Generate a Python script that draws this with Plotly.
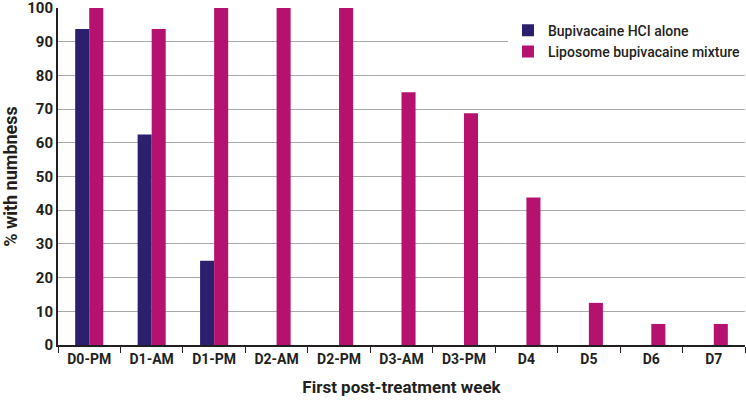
import plotly.graph_objects as go

categories = ["D0-PM", "D1-AM", "D1-PM", "D2-AM", "D2-PM", "D3-AM", "D3-PM", "D4", "D5", "D6", "D7"]
bupivacaine_alone = [93.75, 62.5, 25, 0, 0, 0, 0, 0, 0, 0, 0]
liposome_mixture = [100, 93.75, 100, 100, 100, 75, 68.75, 43.75, 12.5, 6.25, 6.25]
y_ticks = [0, 10, 20, 30, 40, 50, 60, 70, 80, 90, 100]

FONT = "Roboto"
fig = go.Figure()
fig.add_trace(go.Bar(x=categories, y=bupivacaine_alone, name="Bupivacaine HCI alone",
                     marker=dict(color="#2c206e", line=dict(width=0))))
fig.add_trace(go.Bar(x=categories, y=liposome_mixture, name="Liposome bupivacaine mixture",
                     marker=dict(color="#b51270", line=dict(width=0))))

fig.update_layout(
    width=746, height=404,
    margin=dict(l=58, r=1, t=8, b=59, autoexpand=False),
    plot_bgcolor="white", paper_bgcolor="white",
    barmode="group", bargap=0.55, bargroupgap=0,
    font=dict(family=FONT, color="#231f20"),
    legend=dict(x=0.655, y=0.98, xanchor="left", yanchor="top",
                bgcolor="white", font=dict(size=14, family=FONT, color="#231f20", weight=500),
                itemsizing="constant", tracegroupgap=0),
    showlegend=True,
)
fig.update_xaxes(
    type="category", tickson="boundaries", ticks="outside", ticklen=6,
    tickcolor="#231f20", showline=True, linecolor="#231f20", linewidth=2,
    tickfont=dict(size=14, family=FONT, weight="bold"),
    title=dict(text="First post-treatment week", font=dict(size=17, family=FONT, weight="bold"), standoff=15),
    showgrid=False, automargin=False,
)
fig.update_yaxes(
    range=[0, 100], tickvals=y_ticks, showline=True, linecolor="#231f20", linewidth=2,
    showgrid=True, gridcolor="#aaaaaa", gridwidth=1, ticks="", zeroline=False,
    tickfont=dict(size=15, family=FONT, weight="bold"), automargin=False,
    ticklabeloverflow="allow",
    title=dict(text="% with numbness", font=dict(size=18, family=FONT, weight="bold"), standoff=5),
)
fig.write_html("out.html", config={"displayModeBar": False},
               post_script="document.body.style.margin='0';document.body.style.overflow='hidden';")
